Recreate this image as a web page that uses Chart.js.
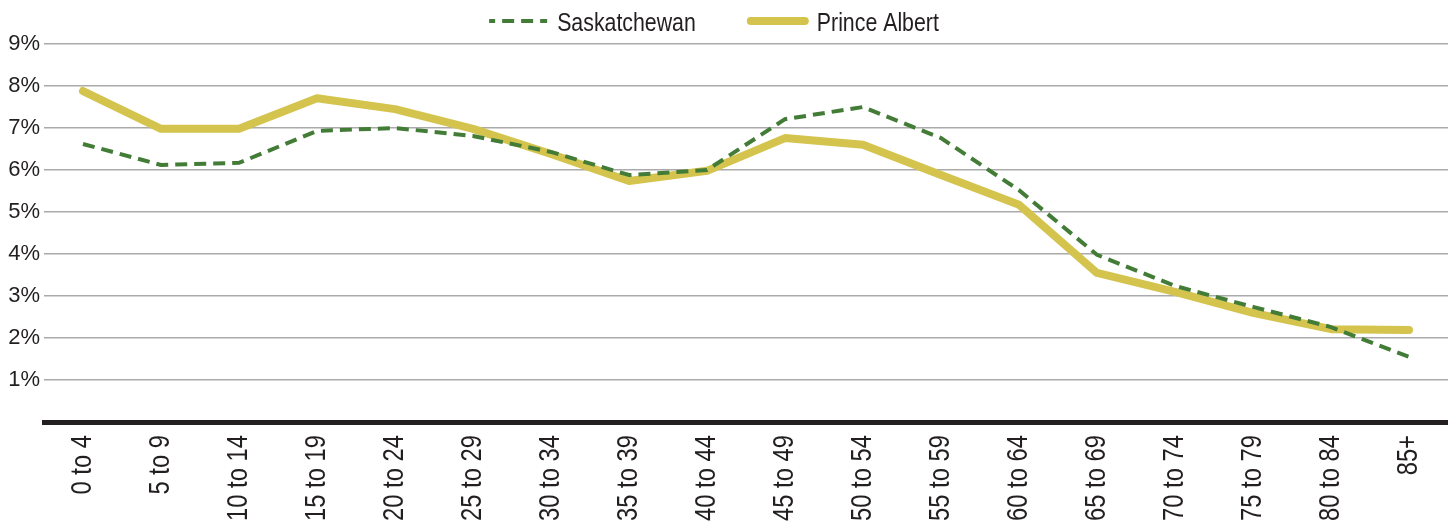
<!DOCTYPE html>
<html>
<head>
<meta charset="utf-8">
<script src="https://cdn.jsdelivr.net/npm/chart.js@4/dist/chart.umd.min.js"></script>
<style>
  html, body { margin: 0; padding: 0; background: #fff; overflow: hidden; }
  #wrap { width: 1448px; height: 526px; }
</style>
</head>
<body>
<div id="wrap"><canvas id="ageChart"></canvas></div>
<script>
const ageGroups = ['0 to 4', '5 to 9', '10 to 14', '15 to 19', '20 to 24', '25 to 29',
  '30 to 34', '35 to 39', '40 to 44', '45 to 49', '50 to 54', '55 to 59',
  '60 to 64', '65 to 69', '70 to 74', '75 to 79', '80 to 84', '85+'];

const saskatchewan = [6.62, 6.12, 6.17, 6.93, 7.0, 6.81, 6.43, 5.88, 6.0, 7.21, 7.5, 6.76,
  5.52, 3.98, 3.24, 2.74, 2.26, 1.55];

const princeAlbert = [7.88, 6.98, 6.98, 7.71, 7.45, 6.98, 6.38, 5.74, 5.98, 6.76, 6.6, 5.88,
  5.17, 3.55, 3.1, 2.6, 2.21, 2.19];

const yTicks = [1, 2, 3, 4, 5, 6, 7, 8, 9];

const textColor = '#231f20';
const narrow = 0.82; // squeeze Liberation Sans into a condensed look

// legend and x labels are drawn here so they can be condensed like the original
const narrowText = {
  id: 'narrowText',
  afterDraw(chart) {
    const ctx = chart.ctx;
    const xs = chart.scales.x;

    ctx.save();
    ctx.fillStyle = textColor;
    ctx.font = '29px "Liberation Sans", Arial, sans-serif';
    ctx.textAlign = 'right';
    ctx.textBaseline = 'middle';
    ageGroups.forEach((lbl, i) => {
      ctx.save();
      ctx.translate(xs.getPixelForTick(i), xs.top + 13);
      ctx.rotate(-Math.PI / 2);
      ctx.scale(narrow, 1);
      ctx.fillText(lbl, 0, 0);
      ctx.restore();
    });
    ctx.restore();

    // legend
    ctx.save();
    ctx.font = '26px "Liberation Sans", Arial, sans-serif';
    const lineLen = [58, 62];
    const textGap = [10, 8];
    const itemGap = 51;
    const items = chart.data.datasets.map((ds, i) => ({
      ds: ds,
      tw: ctx.measureText(ds.label).width * narrow,
      lineLen: lineLen[i],
      textGap: textGap[i]
    }));
    let total = 0;
    items.forEach((it, i) => {
      total += it.lineLen + it.textGap + it.tw + (i ? itemGap : 0);
    });
    let x = chart.width / 2 - 10 - total / 2;
    const y = 21;
    items.forEach((it, i) => {
      if (i) x += itemGap;
      ctx.beginPath();
      ctx.strokeStyle = it.ds.borderColor;
      ctx.lineWidth = it.ds.borderWidth;
      ctx.lineCap = it.ds.borderCapStyle || 'butt';
      ctx.setLineDash(it.ds.borderDash || []);
      ctx.lineDashOffset = it.ds.borderDash ? 6 : 0;
      const pad = ctx.lineCap === 'round' ? it.ds.borderWidth / 2 : 0;
      ctx.moveTo(x + pad, y);
      ctx.lineTo(x + it.lineLen - pad, y);
      ctx.stroke();
      x += it.lineLen + it.textGap;
      ctx.save();
      ctx.translate(x, y + 10);
      ctx.scale(narrow, 1);
      ctx.fillStyle = textColor;
      ctx.textAlign = 'left';
      ctx.textBaseline = 'alphabetic';
      ctx.fillText(it.ds.label, 0, 0);
      ctx.restore();
      x += it.tw;
    });
    ctx.restore();
  }
};

const ctx = document.getElementById('ageChart').getContext('2d');

new Chart(ctx, {
  type: 'line',
  data: {
    labels: ageGroups,
    datasets: [{
      label: 'Saskatchewan',
      data: saskatchewan,
      borderColor: '#437c37',
      backgroundColor: '#437c37',
      borderWidth: 4,
      borderDash: [12, 7],
      pointRadius: 0,
      tension: 0,
      order: 0
    }, {
      label: 'Prince Albert',
      data: princeAlbert,
      borderColor: '#d4c44e',
      backgroundColor: '#d4c44e',
      borderWidth: 8,
      borderCapStyle: 'round',
      borderJoinStyle: 'round',
      pointRadius: 0,
      tension: 0,
      order: 1
    }]
  },
  plugins: [narrowText],
  options: {
    responsive: true,
    maintainAspectRatio: false,
    animation: false,
    layout: { padding: { top: 44, right: 0, left: 0, bottom: 0 } },
    plugins: {
      tooltip: { enabled: false },
      legend: { display: false }
    },
    scales: {
      x: {
        offset: true,
        grid: { display: false, drawTicks: false },
        border: { display: true, color: '#231f20', width: 5 },
        ticks: { display: false, autoSkip: false },
        afterFit: scale => { scale.height = 104; }
      },
      y: {
        min: 0,
        max: 9,
        afterBuildTicks: scale => {
          scale.ticks = [0].concat(yTicks).map(v => ({ value: v }));
        },
        grid: { color: '#aaaaaa', lineWidth: 1.5, drawTicks: false },
        border: { display: false },
        ticks: {
          color: textColor,
          font: { family: "'Liberation Sans', Arial, sans-serif", size: 22 },
          padding: 4,
          callback: v => v === 0 ? '' : v + '%'
        },
        afterFit: scale => { scale.width = 44; }
      }
    }
  }
});
</script>
</body>
</html>
